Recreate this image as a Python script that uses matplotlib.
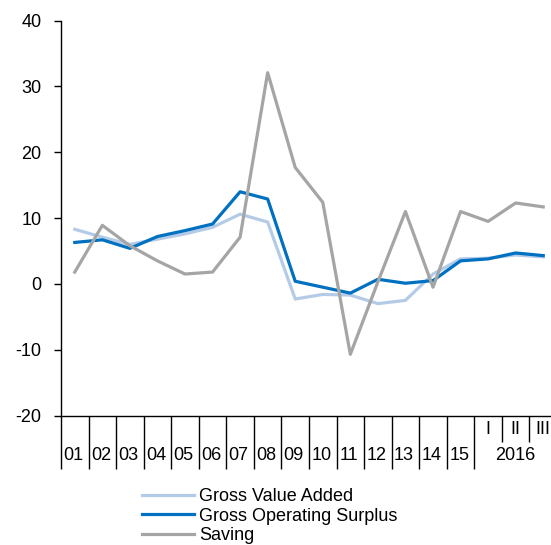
import matplotlib.pyplot as plt
import matplotlib.transforms as mtransforms

plt.rcParams['font.family'] = ['Liberation Sans', 'DejaVu Sans']
plt.rcParams['axes.unicode_minus'] = False

# categories: years 2001-2015, then quarters of 2016
year_labels = ['01', '02', '03', '04', '05', '06', '07', '08', '09', '10',
               '11', '12', '13', '14', '15']
quarter_labels = ['I', 'II', 'III']
group_label = '2016'

gross_value_added = [8.3, 7.1, 6.0, 6.8, 7.6, 8.6, 10.6, 9.4, -2.3, -1.6,
                     -1.7, -3.0, -2.5, 1.5, 3.8, 3.9, 4.4, 4.1]
gross_operating_surplus = [6.3, 6.7, 5.4, 7.2, 8.1, 9.1, 14.0, 12.9, 0.4, -0.5,
                           -1.4, 0.7, 0.1, 0.5, 3.5, 3.8, 4.7, 4.3]
saving = [1.8, 8.9, 5.8, 3.5, 1.5, 1.8, 7.1, 32.1, 17.7, 12.4,
          -10.7, 0.3, 11.0, -0.5, 11.0, 9.5, 12.3, 11.7]

ny = len(year_labels)
n = ny + len(quarter_labels)
x = list(range(n))

fig = plt.figure(figsize=(5.51, 5.45), dpi=100)
# axes run past the right edge of the picture, as in the original
ax = fig.add_axes([61 / 551, 129.5 / 545, 496 / 551, 394.8 / 545])

l1, = ax.plot(x, gross_value_added, color='#B4CBE8', lw=2.3, label='Gross Value Added')
l2, = ax.plot(x, gross_operating_surplus, color='#0070C0', lw=2.3, label='Gross Operating Surplus')
l3, = ax.plot(x, saving, color='#A5A5A5', lw=2.3, label='Saving')

ax.set_xlim(-0.5, n - 0.5)
ax.set_ylim(-20, 40)
ax.set_yticks([-20, -10, 0, 10, 20, 30, 40])
ax.tick_params(axis='y', direction='out', length=5, width=1, labelsize=13, pad=9)

for side in ['top', 'right']:
    ax.spines[side].set_visible(False)
ax.spines['left'].set_linewidth(1)
ax.spines['bottom'].set_linewidth(1)

# separators: long ones between years, short ones between quarters
ax.set_xticks([i - 0.5 for i in range(ny + 1)] + [n - 0.5])
ax.set_xticks([i - 0.5 for i in range(ny + 1, n)], minor=True)
ax.set_xticklabels([])
ax.tick_params(axis='x', which='major', direction='out', length=38, width=1)
ax.tick_params(axis='x', which='minor', direction='out', length=19, width=1)

trans = mtransforms.blended_transform_factory(ax.transData, fig.transFigure)
for i, lab in enumerate(year_labels):
    ax.text(i - 0.05, 1 - 456 / 545, lab, transform=trans, ha='center', va='center', fontsize=13)
for j, lab in enumerate(quarter_labels):
    ax.text(ny + j, 1 - 429 / 545, lab, transform=trans, ha='center', va='center', fontsize=13)
ax.text(ny + 1, 1 - 456 / 545, group_label, transform=trans, ha='center', va='center',
        fontsize=13)

fig.legend(handles=[l1, l2, l3], loc='upper left', bbox_to_anchor=(142 / 551, 1 - 488 / 545),
           frameon=False, fontsize=13, handlelength=2.9, handletextpad=0.25,
           labelspacing=0.14, borderpad=0, borderaxespad=0)

plt.savefig('out.png', dpi=100)
plt.close()
